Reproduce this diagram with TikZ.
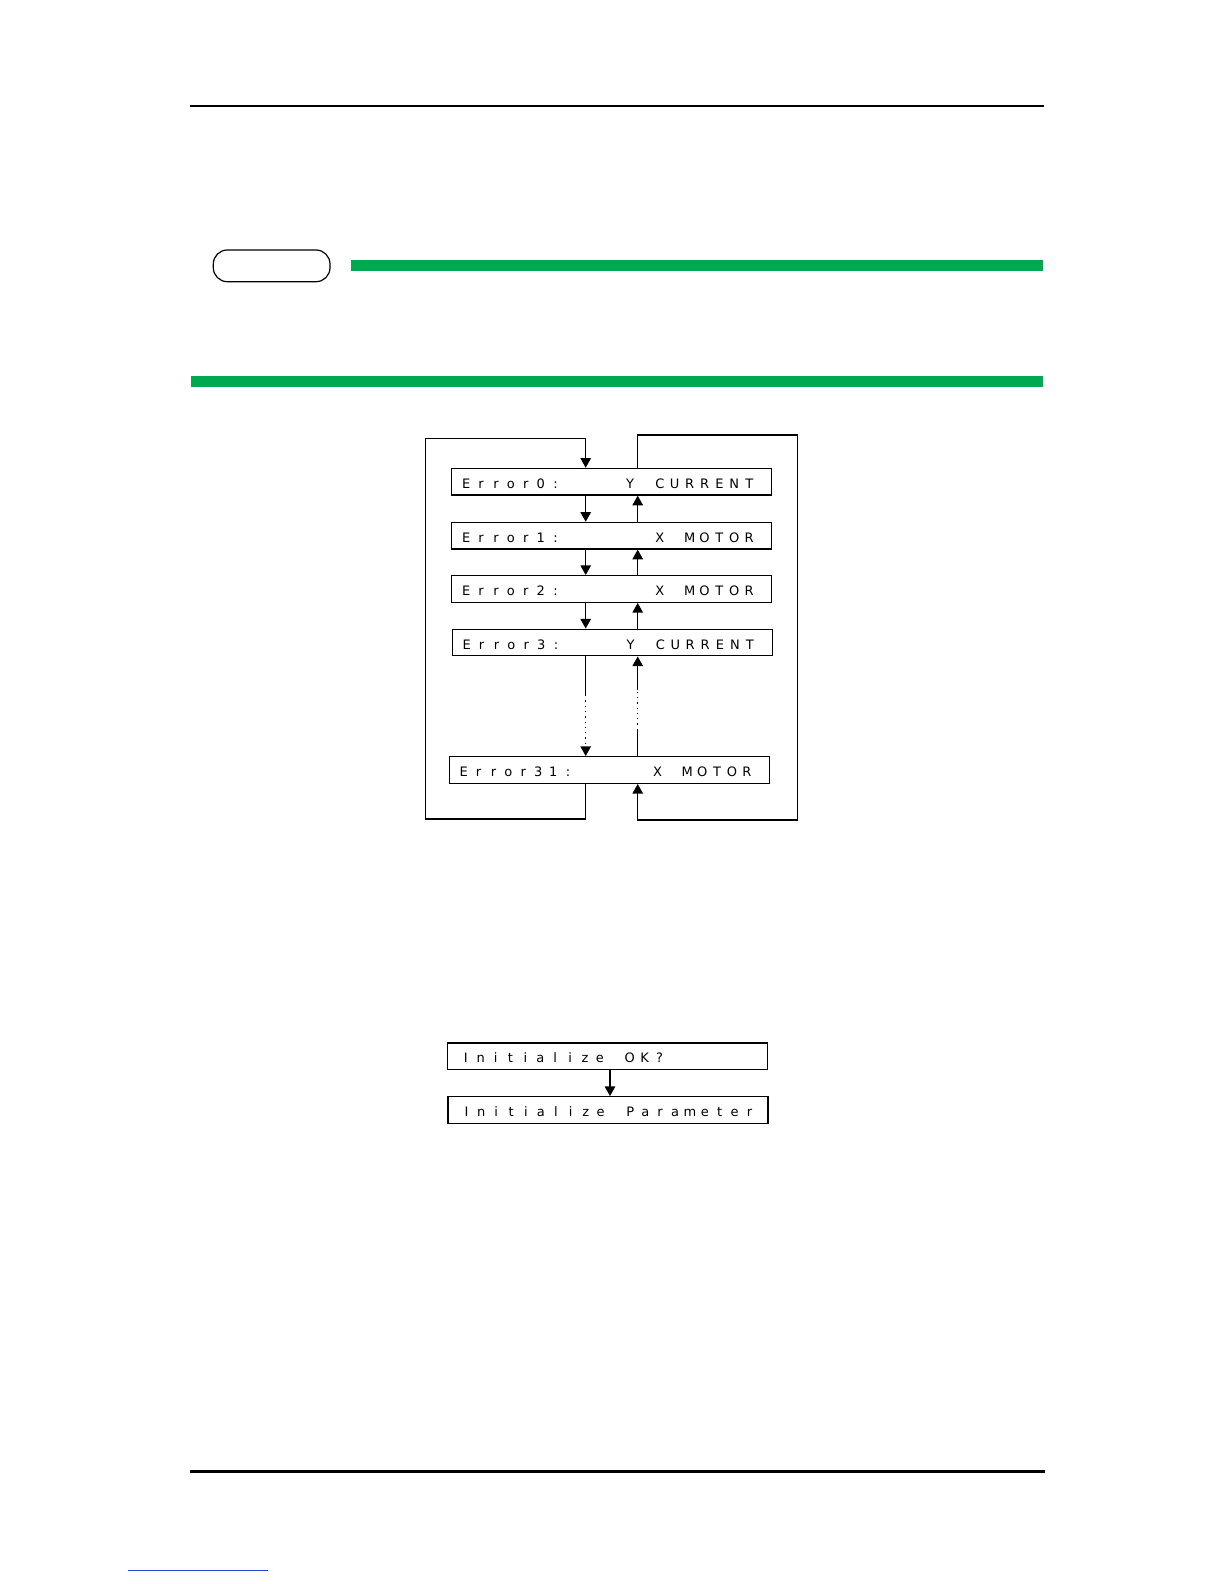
\documentclass[tikz,border=0pt]{standalone}
\usepackage{fontspec}
\usetikzlibrary{arrows.meta}
\newfontfamily\lcdfont{DejaVu Sans}
\definecolor{barGreen}{RGB}{0,168,80}
\definecolor{linkBlue}{RGB}{40,70,200}
% one character per display cell
\newlength\lcdcell
\setlength\lcdcell{7.45pt}
\def\lcd#1{\lcdloop#1\relax}
\def\lcdloop#1{\ifx#1\relax\else\makebox[\lcdcell]{#1}\expandafter\lcdloop\fi}

\begin{document}
\begin{tikzpicture}[x=0.5pt,y=-0.5pt,
    lcdbox/.style={draw,line width=0.65pt,minimum width=160pt,minimum height=13.3pt,
      inner sep=0pt,text height=6.6pt,text depth=0pt,
      font=\lcdfont\fontsize{6.5}{8}\selectfont},
    flow/.style={line width=0.65pt},
    tip/.style={-{Triangle[width=5.2pt,length=4.8pt]}}]
  \useasboundingbox (0,0) rectangle (1224,1584);

  % page frame
  \draw[line width=1.35pt] (190,106) -- (1044,106);
  \draw[line width=0.6pt,rounded corners=7pt] (213.3,250) rectangle (330,281.7);
  \fill[barGreen] (351,260) rectangle (1043,270.7);
  \fill[barGreen] (190.7,376) rectangle (1043,386.7);
  \draw[line width=1.35pt] (190,1471.7) -- (1045,1471.7);
  \draw[linkBlue,line width=0.5pt] (128,1570) -- (268,1570);

  % error list
  \node[lcdbox] (e0) at (611.7,481.7) {\makebox[153pt][l]{\lcd{Error0:~~~~Y~CURRENT}}};
  \node[lcdbox] (e1) at (611.7,535.7) {\makebox[153pt][l]{\lcd{Error1:~~~~~~X~MOTOR}}};
  \node[lcdbox] (e2) at (611.7,589) {\makebox[153pt][l]{\lcd{Error2:~~~~~~X~MOTOR}}};
  \node[lcdbox] (e3) at (612.3,642.5) {\makebox[153pt][l]{\lcd{Error3:~~~~Y~CURRENT}}};
  \node[lcdbox] (e31) at (609.3,770) {\makebox[153pt][l]{\lcd{Error31:~~~~~X~MOTOR}}};

  \coordinate (dl) at (585.7,0);
  \coordinate (ur) at (637.7,0);
  \foreach \a/\b in {e0/e1,e1/e2,e2/e3}{
    \draw[flow,tip] (\a.south -| dl) -- (\b.north -| dl);
    \draw[flow,tip] (\b.north -| ur) -- (\a.south -| ur);
  }

  % skipped entries
  \coordinate (ls) at (585.7,695);
  \coordinate (le) at (585.7,746.7);
  \draw[flow] (e3.south -| dl) -- (ls);
  \draw[flow,dotted] (ls) -- (le);
  \draw[flow,tip] (le) -- (e31.north -| dl);
  \coordinate (rs) at (637.7,730);
  \coordinate (re) at (637.7,690);
  \draw[flow] (e31.north -| ur) -- (rs);
  \draw[flow,dotted] (rs) -- (re);
  \draw[flow,tip] (re) -- (e3.south -| ur);

  % wrap round
  \coordinate (lb) at (425.7,819);
  \coordinate (lt) at (425.7,438.3);
  \draw[flow,tip] (e31.south -| dl) -- (dl |- lb) -- (lb) -- (lt) -- (dl |- lt) -- (e0.north -| dl);
  \coordinate (rt) at (797.3,435);
  \coordinate (rb) at (797.3,820);
  \draw[flow,tip] (e0.north -| ur) -- (ur |- rt) -- (rt) -- (rb) -- (ur |- rb) -- (e31.south -| ur);

  % initialize
  \node[lcdbox] (i1) at (607.3,1056.3) {\makebox[149pt][l]{\lcd{Initialize~OK?}}};
  \node[lcdbox] (i2) at (608,1110) {\makebox[149pt][l]{\lcd{Initialize~Parameter}}};
  \coordinate (ia) at (610,0);
  \draw[flow,tip] (i1.south -| ia) -- (i2.north -| ia);
\end{tikzpicture}
\end{document}
